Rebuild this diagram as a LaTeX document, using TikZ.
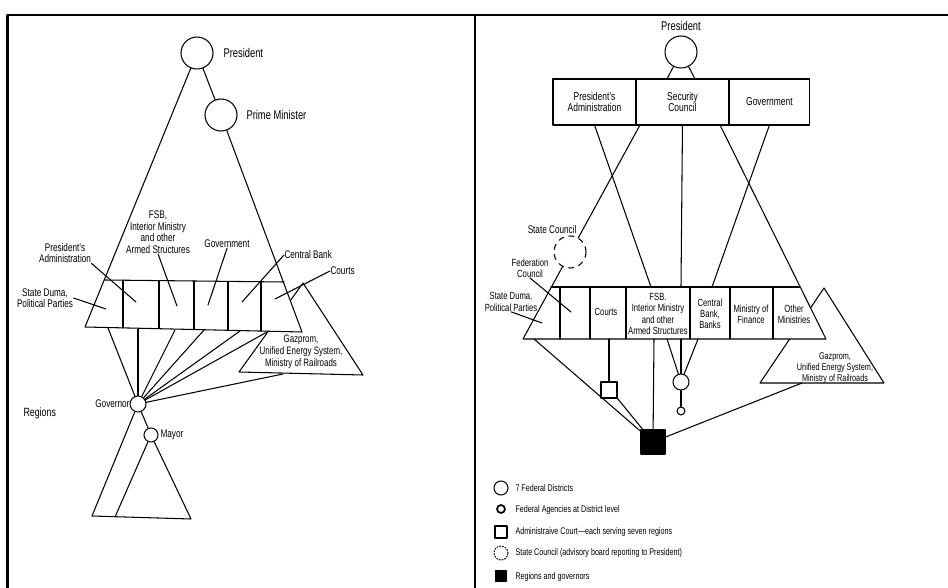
\documentclass[tikz,border=0pt]{standalone}
\usepackage{fontspec}
\setmainfont{Liberation Sans}[FakeStretch=0.74]
\usetikzlibrary{positioning}
\tikzset{
  frame/.style={line width=1.3pt, line cap=butt},
  lbl/.style={font=\fontsize{6.3}{6.6}\selectfont, align=center, inner sep=0pt},
  bigtxt/.style={font=\fontsize{7.2}{8}\selectfont, inner sep=0pt},
  rtxt/.style={font=\fontsize{5.9}{6.4}\selectfont, align=center, inner sep=0pt},
  gztxt/.style={font=\fontsize{5.6}{6.1}\selectfont, align=center, inner sep=0pt},
  legtxt/.style={font=\fontsize{5.5}{6}\selectfont, inner sep=0pt, anchor=west},
  ring/.style={circle, draw, fill=white, inner sep=0pt, minimum size=#1},
  sq/.style={rectangle, draw, fill=white, inner sep=0pt, minimum size=#1},
  cell/.style={rectangle, draw, inner sep=0pt, outer sep=0pt, minimum height=0.92cm,
    align=center, font=\fontsize{6.5}{6.7}\selectfont},
}
\begin{document}
\begin{tikzpicture}[x=0.02cm, y=-0.02cm, line width=0.6pt, line join=round, line cap=round]
\useasboundingbox (0,0) rectangle (948,588);
% frame
\draw[frame] (7.5,588) -- (7.5,15) -- (948,15);
\draw[frame] (475,15) -- (475,588);

% ---------- left panel ----------
\path
(85,327)coordinate(BL)
(302,332)coordinate(BR)
(105,280)coordinate(TL)
(284,282)coordinate(TR)
(92,516)coordinate(RL)
(115,517)coordinate(RM)
(191,519)coordinate(RR)
(303,283)coordinate(GA)
(239,372)coordinate(GB)
(363,375)coordinate(GC)
;
% Gazprom triangle behind the band
\draw (GA)--(GB)--(GC)--cycle;
\node[lbl, font=\fontsize{6.1}{7}\selectfont] (lgz) at (301,352) {Gazprom,\\Unified Energy System,\\Ministry of Railroads};
\fill[white] (TL)--(TR)--(BR)--(BL)--cycle;
\node[ring=0.64cm] (pres) at (197,53) {};
\node[bigtxt, anchor=west] at (223,53) {President};
\node[ring=0.64cm] (pm) at (221,115) {};
\node[bigtxt, anchor=west] at (246,115) {Prime Minister};
\draw (pres)--(BL)--(BR)--(pm);
\draw (pres)--(pm);
\draw (TL)--(TR);
\foreach \x/\t/\b in {123/280.2/327.9,159/280.6/328.7,194/281/329.5,228/281.4/330.3,261/281.7/331.1}
  \draw (\x,\t)--(\x,\b);
% labels and pointers
\node[lbl] (lpa) at (65,253) {President's\\Administration};
\node[lbl] (ldu) at (45,298) {State Duma,\\Political Parties};
\node[lbl] (lfsb) at (158,232) {FSB,\\Interior Ministry\\and other\\Armed Structures};
\node[lbl] (lgov) at (227,244) {Government};
\node[lbl, anchor=west] (lcb) at (284,255) {Central Bank};
\node[lbl, anchor=west] (lct) at (330,271) {Courts};
\draw (lpa.south east)--(136,302);
\draw (ldu.east)--(106,309);
\draw (lfsb.south)--(177,306);
\draw (lgov.south)--(208,305);
\draw (lcb.west)--(242,302);
\draw (lct.west)--(275,299);
% regions
\node[ring=0.32cm] (gov) at (138,404) {};
\node[lbl, anchor=east] at (130,404) {Governor};
\node[ring=0.28cm] (mayor) at (151,435) {};
\node[lbl, anchor=west] at (160,435) {Mayor};
\node[bigtxt, font=\fontsize{6.8}{8}\selectfont, anchor=west] at (23,413) {Regions};
\foreach \a/\b in {108/328,138/329,175/330,204/330,240/331,267/332,283/374}
  \draw (gov)--(\a,\b);
\draw (gov)--(RL)--(RR)--(mayor)--(RM);
\draw (gov)--(mayor);

% ---------- right panel ----------
\path
(523,339)coordinate(Q1)
(826,339)coordinate(Q2)
(551,287)coordinate(Q3)
(800,287)coordinate(Q4)
(640,125)coordinate(A1)
(720,125)coordinate(A2)
(667,79)coordinate(P1)
(695,79)coordinate(P2)
(651,287)coordinate(S2)
(681,287)coordinate(S3)
(712,287)coordinate(S4)
(824,288)coordinate(G1)
(760,383)coordinate(G2)
(884,383)coordinate(G3)
(802,383)coordinate(G4)
(609,339)coordinate(C1)
(667,339)coordinate(F1)
(681,339)coordinate(F2)
(698,339)coordinate(F3)
(654,339)coordinate(F4)
(534,339)coordinate(F5)
;
\draw (G1)--(G2)--(G3)--cycle;
\node[gztxt] (rgz) at (835,368) {Gazprom,\\Unified Energy System,\\Ministry of Railroads};
\fill[white] (Q3)--(Q4)--(Q2)--(Q1)--cycle;
% top boxes
\node[ring=0.64cm] (rpres) at (681,52) {};
\node[bigtxt, above=2.3pt of rpres] {President};
\node[cell, minimum width=1.66cm] (rpa) at (594.5,102) {President's\\Administration};
\node[cell, minimum width=1.86cm, right=0pt of rpa] (rsc) {Security\\Council};
\node[cell, minimum width=1.62cm, right=0pt of rsc] (rgov) {Government};
\draw (rpres)--(P1);
\draw (rpres)--(P2);
% triangle and band
\draw (A1)--(Q1)--(Q2)--(A2);
\draw (Q3)--(Q4);
\foreach \x in {560,590,626,690,730,773}
  \draw (\x,287)--(\x,339);
\draw (rpa.south)--(S2);
\draw (rsc.south)--(S3);
\draw (rgov.south)--(S4);
% state council
\node[ring=0.64cm, dashed] (rstc) at (570,252) {};
\node[lbl, anchor=east] at (577,230) {State Council};
% band labels
\node[rtxt] (rdu) at (511,302) {State Duma,\\Political Parties};
\node[rtxt] (rfc) at (530,268) {Federation\\Council};
\draw (rdu.south)--(542,323);
\draw (rfc.south)--(571,312);
\node[rtxt] (rct) at (606,312) {Courts};
\node[rtxt] (rfsb) at (658,314) {FSB.\\Interior Ministry\\and other\\Armed Structures};
\node[rtxt] (rcb) at (710,314) {Central\\Bank,\\Banks};
\node[rtxt] (rmf) at (751,314) {Ministry of\\Finance};
\node[rtxt] (rom) at (794,314) {Other\\Ministries};
% districts and regions
\node[sq=0.32cm] (rcs) at (609,390) {};
\node[ring=0.32cm] (rdis) at (681,382) {};
\node[ring=0.16cm] (rfa) at (681,411) {};
\node[sq=0.48cm, fill=black] (rreg) at (653,442) {};
\draw (C1)--(rcs);
\draw (F1)--(rdis);
\draw (F2)--(rdis);
\draw (F3)--(rdis);
\draw (rdis)--(rfa);
\draw (F4)--(rreg);
\draw (F5)--(rreg);
\draw (rcs.south east)--(rreg);
\draw (G4)--(rreg);
% legend
\node[ring=0.28cm] (lg1) at (501,488) {};
\node[ring=0.16cm, line width=1pt] (lg2) at (501,509) {};
\node[sq=0.24cm] (lg3) at (501,532) {};
\node[ring=0.28cm, densely dotted] (lg4) at (501,553) {};
\node[sq=0.22cm, fill=black] (lg5) at (501,576) {};
\node[legtxt] at (515,488) {7 Federal Districts};
\node[legtxt] at (515,510) {Federal Agencies at District level};
\node[legtxt] at (515,532) {Administraive Court---each serving seven regions};
\node[legtxt] at (515,553) {State Council (advisory board reporting to President)};
\node[legtxt] at (515,577) {Regions and governors};
\end{tikzpicture}
\end{document}
